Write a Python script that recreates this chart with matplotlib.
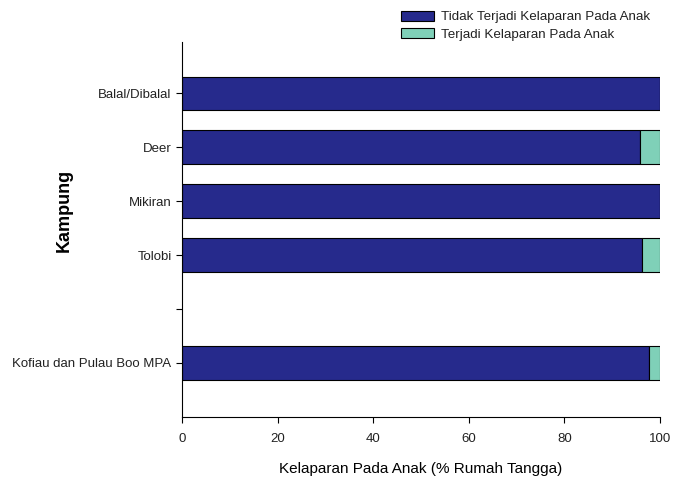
import matplotlib.pyplot as plt
import numpy as np

plt.rcParams['font.family'] = ['Liberation Sans', 'DejaVu Sans']
plt.rcParams['text.color'] = '#222222'
plt.rcParams['xtick.labelcolor'] = '#222222'
plt.rcParams['ytick.labelcolor'] = '#222222'

kampung = ['Kofiau dan Pulau Boo MPA', '', 'Tolobi', 'Mikiran', 'Deer', 'Balal/Dibalal']
tidak_lapar = [97.8, np.nan, 96.2, 100.0, 95.9, 100.0]
lapar = [2.2, np.nan, 3.8, 0.0, 4.1, 0.0]

fig = plt.figure(figsize=(6.74, 4.83), dpi=100)
ax = fig.add_axes([0.270, 0.137, 0.709, 0.776])

y = np.arange(len(kampung))
ax.barh(y, tidak_lapar, height=0.62, color='#262a8c', edgecolor='black', linewidth=0.8,
        label='Tidak Terjadi Kelaparan Pada Anak')
ax.barh(y, lapar, left=tidak_lapar, height=0.62, color='#7fd0b8', edgecolor='black', linewidth=0.8,
        label='Terjadi Kelaparan Pada Anak')

ax.set_xlim(0, 100)
ax.set_ylim(-1.0, 5.95)
ax.set_yticks(y)
ax.set_yticklabels(kampung, fontsize=9.5)
ax.set_xticks([0, 20, 40, 60, 80, 100])
ax.tick_params(axis='x', labelsize=9.5, direction='out', length=4, pad=8)
ax.tick_params(axis='y', direction='out', length=4)
ax.spines['top'].set_visible(False)
ax.spines['right'].set_visible(False)
ax.set_xlabel('Kelaparan Pada Anak (% Rumah Tangga)', fontsize=11, labelpad=12)
ax.set_ylabel('Kampung', fontsize=13, fontweight='bold')
ax.yaxis.set_label_coords(-0.228, 0.55)

fig.legend(loc='upper left', bbox_to_anchor=(0.579, 1.0), frameon=False, fontsize=9.6,
           handlelength=2.5, handleheight=0.8, borderpad=0.3, labelspacing=0.35, handletextpad=0.5)

fig.savefig('out.png', dpi=100)
